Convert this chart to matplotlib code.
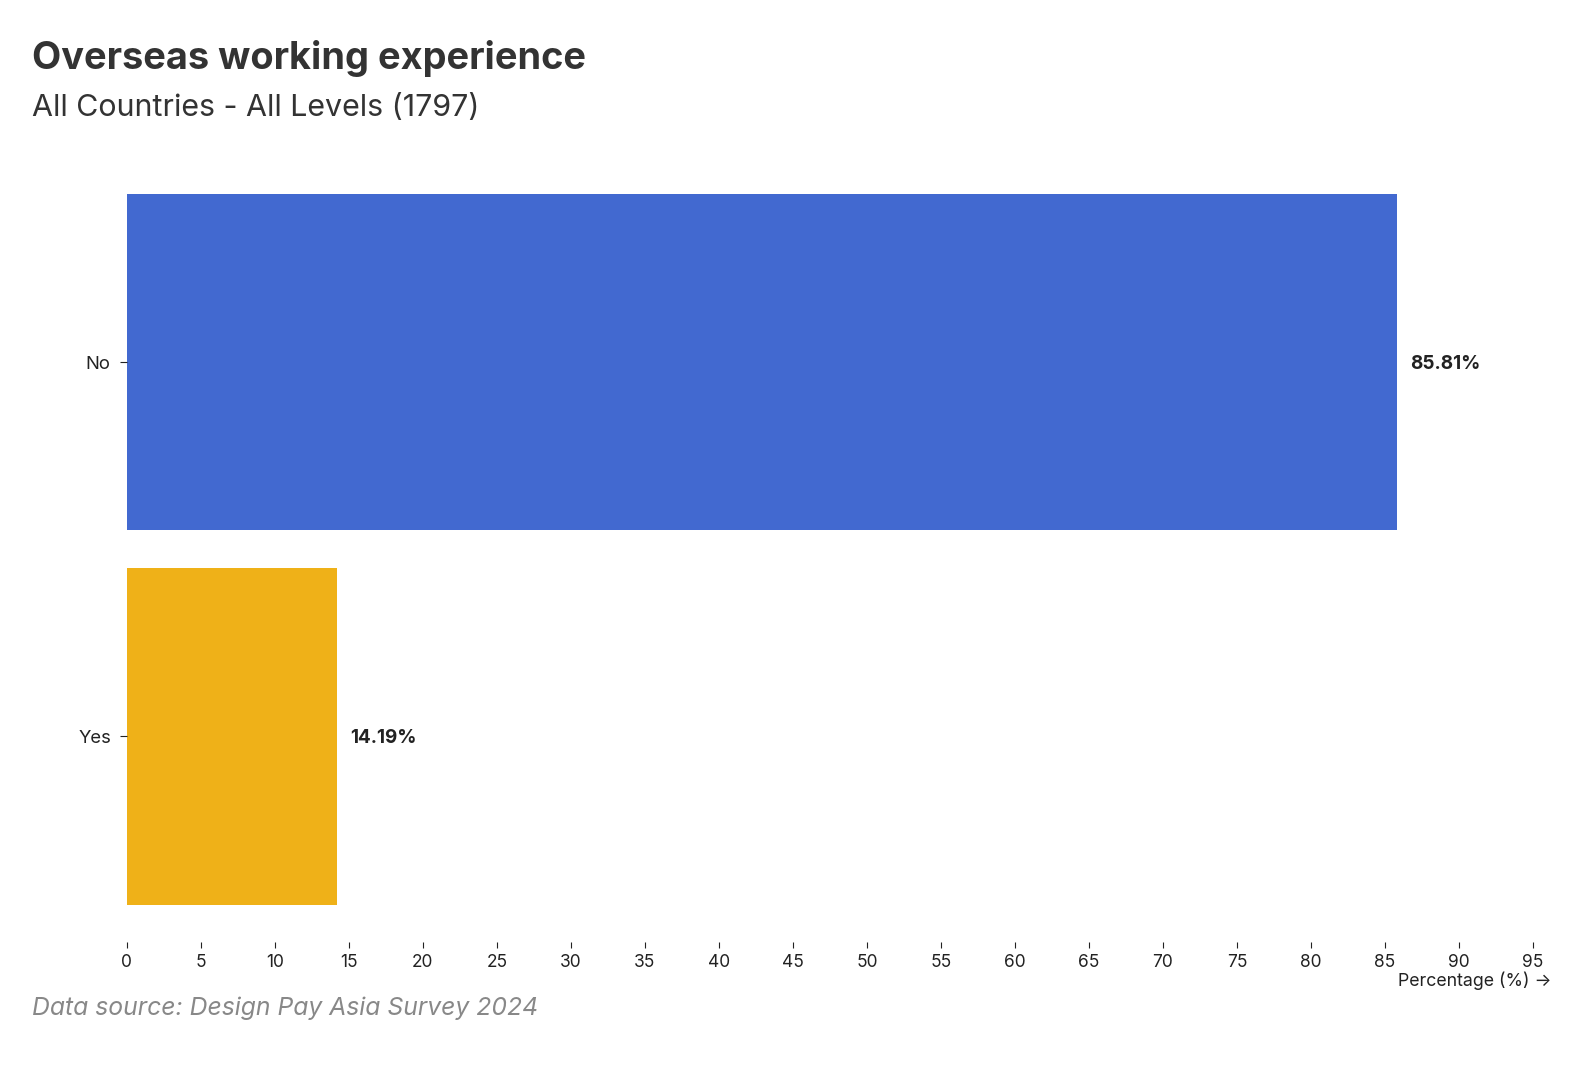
import matplotlib
matplotlib.use("Agg")
import matplotlib.pyplot as plt

categories = ["No", "Yes"]
values = [85.81, 14.19]
colors = ["#4269d0", "#efb118"]
xticks = list(range(0, 100, 5))

plt.rcParams['font.family'] = ['Inter', 'DejaVu Sans']

W, H = 1590, 1084
fig = plt.figure(figsize=(W / 100, H / 100), dpi=100)
left, right, top, bottom = 126.8, 1533, 156.3, 942
ax = fig.add_axes([left / W, 1 - bottom / H, (right - left) / W, (bottom - top) / H])

ypos = list(range(len(categories)))
ax.barh(ypos, values, height=0.9, color=colors)
ax.set_ylim(len(categories) - 0.45, -0.55)
ax.set_xlim(0, 95)
ax.set_yticks(ypos)
ax.set_yticklabels(categories)
ax.set_xticks(xticks)
ax.set_xticklabels([str(t) for t in xticks])
for s in ax.spines.values():
    s.set_visible(False)
ax.tick_params(axis='x', labelsize=12.5, colors='#222222', length=4.5, width=0.8, pad=4)
ax.tick_params(axis='y', labelsize=13.3, colors='#222222', length=5, width=0.8, pad=6.5)

for y, v in zip(ypos, values):
    ax.annotate(f"{v:.2f}%", xy=(v, y), xytext=(9.5, -1.5), textcoords='offset points',
                ha='left', va='center', fontsize=13.6, fontweight='bold', color='#222222')

fig.text(32.4 / W, 1 - 69 / H, "Overseas working experience", fontsize=27.3, fontweight='bold',
         color='#333333', ha='left', va='baseline')
fig.text(32.4 / W, 1 - 116 / H, "All Countries - All Levels (1797)", fontsize=21.9,
         color='#333333', ha='left', va='baseline')
fig.text(1552 / W, 1 - 981 / H, "Percentage (%) \u2192", fontsize=12.8, color='#222222',
         ha='right', va='center')
fig.text(32.4 / W, 1 - 1015 / H, "Data source: Design Pay Asia Survey 2024", fontsize=17.8,
         style='italic', color='#888888', ha='left', va='baseline')

fig.savefig("out.png", dpi=100, facecolor='white')
